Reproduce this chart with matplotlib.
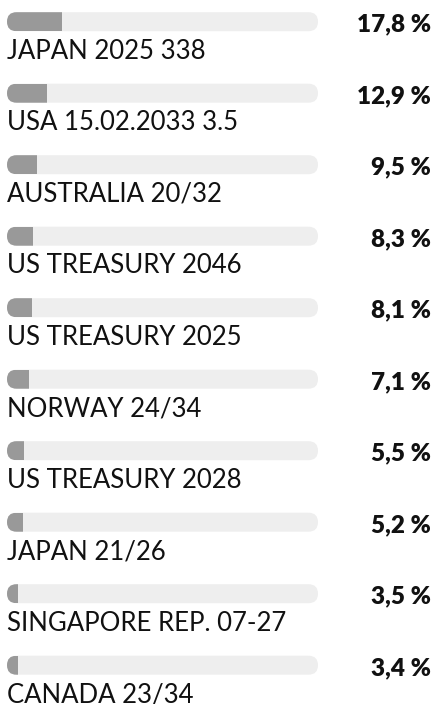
import matplotlib
matplotlib.use('Agg')
import matplotlib.pyplot as plt
from matplotlib.patches import FancyBboxPatch
from matplotlib.transforms import blended_transform_factory

# data
labels = ['JAPAN 2025 338', 'USA 15.02.2033 3.5', 'AUSTRALIA 20/32', 'US TREASURY 2046',
          'US TREASURY 2025', 'NORWAY 24/34', 'US TREASURY 2028', 'JAPAN 21/26',
          'SINGAPORE REP. 07-27', 'CANADA 23/34']
values = [17.8, 12.9, 9.5, 8.3, 8.1, 7.1, 5.5, 5.2, 3.5, 3.4]
value_labels = ['17,8 %', '12,9 %', '9,5 %', '8,3 %', '8,1 %', '7,1 %', '5,5 %', '5,2 %', '3,5 %', '3,4 %']

W, H = 437, 704
fig = plt.figure(figsize=(W / 100, H / 100), dpi=100)
plt.rcParams['font.family'] = ['Lato', 'DejaVu Sans']

x0, x1 = 7, 318          # track left/right in px
row_px = 71.5            # px between rows
first_px = 21.7          # center of first bar in px
bar_px = 19              # bar thickness in px

ax = fig.add_axes([x0 / W, 0, (x1 - x0) / W, 1])
ax.set_xlim(0, 100)
ax.set_ylim((H - first_px) / row_px, -first_px / row_px)
ax.axis('off')

px_x = (x1 - x0) / 100.0
h = bar_px / row_px
asp = px_x / row_px
rad = (bar_px / 2) / px_x

text_col = '#111111'
tr = blended_transform_factory(fig.transFigure, ax.transData)

for i, (lab, v, vl) in enumerate(zip(labels, values, value_labels)):
    track = FancyBboxPatch((0, i - h / 2), 100, h,
                           boxstyle=f'round,pad=0,rounding_size={rad}',
                           mutation_aspect=asp, facecolor='#eeeeee',
                           edgecolor='none')
    ax.add_patch(track)
    bars = ax.barh(i, v, height=h, left=0, color='#999999')
    for b in bars:
        b.set_clip_path(track)
    ax.text(431 / W, i + (31.5 - first_px) / row_px, vl, transform=tr,
            ha='right', va='baseline', fontsize=17.5, fontweight='heavy',
            color=text_col)
    ax.text(0, i + (59 - first_px) / row_px, lab, ha='left', va='baseline',
            fontsize=18.5, color=text_col)

fig.savefig('out.png', dpi=100)
